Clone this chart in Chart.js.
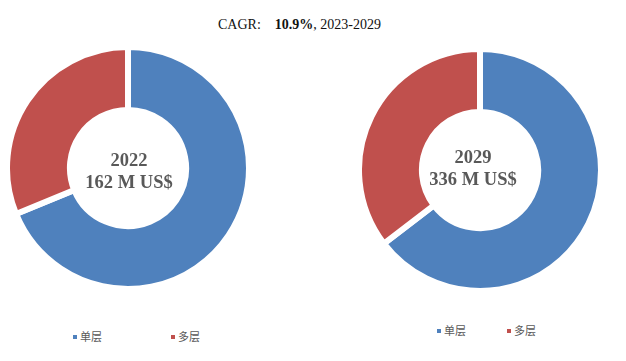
<!DOCTYPE html>
<html>
<head>
<meta charset="utf-8">
<script src="https://cdn.jsdelivr.net/npm/chart.js@4/dist/chart.umd.min.js"></script>
<style>
  html, body { margin: 0; padding: 0; background: #fff; }
  body { width: 626px; height: 361px; position: relative; overflow: hidden; }
  canvas { position: absolute; }
  .title { position: absolute; top: 17px; left: 218px; font-family: "Liberation Serif", serif; font-size: 14px; color: #111; white-space: pre; }
  .center { position: absolute; width: 160px; text-align: center; font-family: "Liberation Serif", serif; font-weight: bold; font-size: 18.5px; color: #595959; line-height: 22px; }
  .legend { position: absolute; font-family: "Noto Sans CJK SC", sans-serif; font-size: 11px; color: #595959; white-space: nowrap; line-height: 12px; }
  .legend span.box { display: inline-block; width: 4px; height: 4px; margin-right: 3px; vertical-align: middle; position: relative; top: -1px; }
</style>
</head>
<body>
<div class="title" id="title"></div>
<canvas id="c1" width="248" height="248" style="left:4px; top:44px; width:248px; height:248px;"></canvas>
<canvas id="c2" width="248" height="248" style="left:356px; top:46px; width:248px; height:248px;"></canvas>
<div class="center" id="t1" style="left:49px; top:149px;"></div>
<div class="center" id="t2" style="left:393px; top:146px;"></div>
<div id="legends"></div>
<script>
const categories = ['单层', '多层'];
const years = ['2022', '2029'];
const totals = ['162 M US$', '336 M US$'];
const share2022 = [68.8, 31.2];
const share2029 = [64.6, 35.4];
const cagrValue = '10.9%';
const cagrPeriod = '2023-2029';
const colors = ['#4F81BD', '#C0504D'];

document.getElementById('title').innerHTML =
  'CAGR:<span style="display:inline-block;width:14px"></span><b>' + cagrValue + '</b>, ' + cagrPeriod;

document.getElementById('t1').innerHTML = years[0] + '<br>' + totals[0];
document.getElementById('t2').innerHTML = years[1] + '<br>' + totals[1];

function makeDonut(id, values) {
  return new Chart(document.getElementById(id), {
    type: 'doughnut',
    data: {
      labels: categories,
      datasets: [{
        data: values,
        backgroundColor: colors,
        borderColor: '#ffffff',
        borderWidth: 6,
        borderAlign: 'center',
        borderJoinStyle: 'miter'
      }]
    },
    options: {
      responsive: false,
      animation: false,
      cutout: '48%',
      layout: { padding: 0 },
      plugins: { legend: { display: false }, tooltip: { enabled: false } }
    }
  });
}
makeDonut('c1', share2022);
makeDonut('c2', share2029);

// legends
const legendPos = [
  { y: 330, xs: [73, 171] },
  { y: 324, xs: [437, 507] }
];
const lg = document.getElementById('legends');
legendPos.forEach(p => {
  categories.forEach((cat, i) => {
    const d = document.createElement('div');
    d.className = 'legend';
    d.style.left = p.xs[i] + 'px';
    d.style.top = p.y + 'px';
    d.innerHTML = '<span class="box" style="background:' + colors[i] + '"></span>' + cat;
    lg.appendChild(d);
  });
});
</script>
</body>
</html>
